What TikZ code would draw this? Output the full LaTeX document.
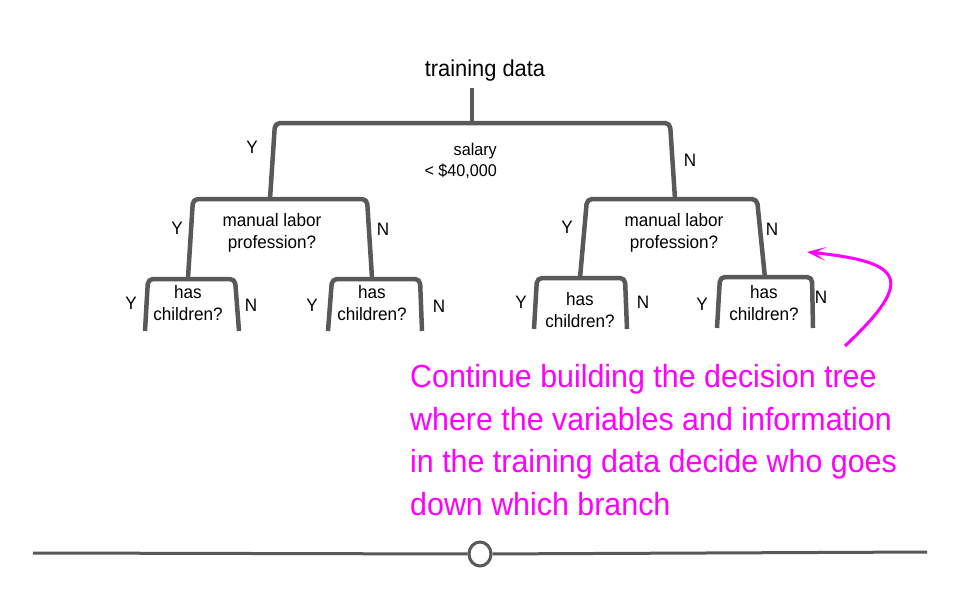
\documentclass[tikz,border=0pt]{standalone}
\usepackage{fontspec}
\setmainfont{Liberation Sans}[FakeStretch=0.95]
\usepackage{tikz}
\usetikzlibrary{arrows.meta}
\usetikzlibrary{shapes.geometric}
\usepackage{xcolor}
\definecolor{treegray}{RGB}{89,89,89}
\definecolor{notemagenta}{RGB}{255,0,255}
\newcommand{\colorbranch}{treegray}
\newcommand{\colornote}{notemagenta}
\newcommand{\sizelabel}{\fontsize{18}{21.5}\selectfont}
\tikzset{
    branch/.style={draw=\colorbranch, line width=4.5pt, rounded corners=5pt, line join=round},
    title/.style={anchor=base, inner sep=0pt, font=\fontsize{23}{27}\selectfont},
    question/.style={anchor=base, align=center, inner sep=0pt, font=\sizelabel},
    answer/.style={anchor=base, inner sep=0pt, font=\sizelabel},
    note/.style={anchor=base west, align=left, inner sep=0pt, text=\colornote, font=\fontsize{32}{42.5}\selectfont},
    pointer/.style={draw=\colornote, line width=3pt, -{Stealth[length=19pt, width=14pt, inset=11pt]}},
    rail/.style={draw=\colorbranch, line width=3pt},
    slider/.style={draw=\colorbranch, line width=3pt, ellipse, minimum width=22pt, minimum height=24pt, inner sep=0pt},
}

\begin{document}
\begin{tikzpicture}[x=1pt, y=-1pt]
            \useasboundingbox (0,0) rectangle (960,600);

            % questions (base = last line)
            \path
                (485,76) node[title] (training) {training data}
                (472,176) node[question, align=right, anchor=base east, xshift=25pt, font=\fontsize{17}{21}\selectfont] (salary) {salary\\< \$40,000}
                (272,248) node[question] (manual-l) {manual labor\\profession?}
                (674,248) node[question] (manual-r) {manual labor\\profession?}
                (188,320) node[question] (kids-a) {has\\children?}
                (372,320) node[question] (kids-b) {has\\children?}
                (580,327) node[question] (kids-c) {has\\children?}
                (764,320) node[question] (kids-d) {has\\children?};

            % bracket corners and feet
            \path
                (275,123) coordinate (salary-nw) (670,123) coordinate (salary-ne)
                (270,199) coordinate (salary-y) (675,199) coordinate (salary-n)
                (193,199) coordinate (manual-l-nw) (367,199) coordinate (manual-l-ne)
                (188,278) coordinate (manual-l-y) (372,278) coordinate (manual-l-n)
                (587,199) coordinate (manual-r-nw) (757,199) coordinate (manual-r-ne)
                (580,278) coordinate (manual-r-y) (765,278) coordinate (manual-r-n)
                (148,279) coordinate (kids-a-nw) (235,279) coordinate (kids-a-ne)
                (145,331) coordinate (kids-a-y) (239,331) coordinate (kids-a-n)
                (332,279) coordinate (kids-b-nw) (420,279) coordinate (kids-b-ne)
                (328,331) coordinate (kids-b-y) (422,331) coordinate (kids-b-n)
                (537,278) coordinate (kids-c-nw) (625,278) coordinate (kids-c-ne)
                (534,329) coordinate (kids-c-y) (627,329) coordinate (kids-c-n)
                (720,277) coordinate (kids-d-nw) (812,277) coordinate (kids-d-ne)
                (717,328) coordinate (kids-d-y) (813,328) coordinate (kids-d-n);

            \draw[branch] (472,88) coordinate (training-foot) -- (training-foot |- salary-nw);
            \foreach \s in {salary, manual-l, manual-r, kids-a, kids-b, kids-c, kids-d}
                \draw[branch] (\s-y) -- (\s-nw) -- (\s-ne) -- (\s-n);

            % answers
            \path
                (252,153) node[answer] (salary-yes) {Y}
                (690,166) node[answer] (salary-no) {N}
                (177,234) node[answer] (manual-l-yes) {Y}
                (383,235) node[answer] (manual-l-no) {N}
                (567,233) node[answer] (manual-r-yes) {Y}
                (772,235) node[answer] (manual-r-no) {N}
                (131,309) node[answer] (kids-a-yes) {Y}
                (251,311) node[answer] (kids-a-no) {N}
                (312,311) node[answer] (kids-b-yes) {Y}
                (439,312) node[answer] (kids-b-no) {N}
                (521,308) node[answer] (kids-c-yes) {Y}
                (643,308) node[answer] (kids-c-no) {N}
                (702,310) node[answer] (kids-d-yes) {Y}
                (821,303) node[answer] (kids-d-no) {N};

            % note
            \node[note] (note) at (410,515) {Continue building the decision tree\\where the variables and information\\in the training data decide who goes\\down which branch};
            \coordinate (note-tail) at (845,346);
            \coordinate (note-head) at (807,252);
            \draw[pointer] (note-tail) .. controls (915,280) and (905,262) .. (note-head);

            % slider
            \node[slider] (knob) at (480,554) {};
            \coordinate (rail-west) at (33,553);
            \coordinate (rail-east) at (927,552);
            \draw[rail] (rail-west) -- (knob) -- (rail-east);
\end{tikzpicture}
\end{document}
